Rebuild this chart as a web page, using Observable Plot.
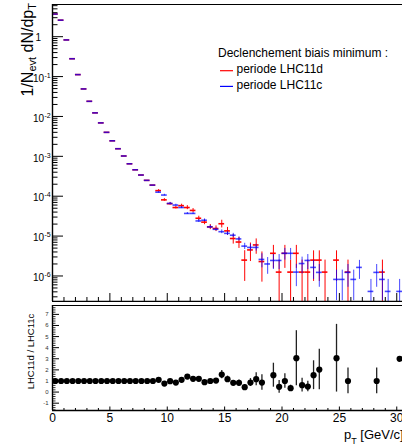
<!DOCTYPE html>
<html><head><meta charset="utf-8">
<script src="https://cdn.jsdelivr.net/npm/d3@7"></script>
<script src="https://cdn.jsdelivr.net/npm/@observablehq/plot@0.6"></script>
<style>
body{margin:0;background:#fff;}
#chart{position:relative;width:402px;height:448px;overflow:hidden;background:#fff;}
#chart svg{position:absolute;left:0;max-width:none;}
</style></head><body><div id="chart"></div><script>
// ---- data ----
const pt = [0.25,0.75,1.25,1.75,2.25,2.75,3.25,3.75,4.25,4.75,5.25,5.75,6.25,6.75,7.25,7.75,8.25,8.75,9.25,9.75,10.25,10.75,11.25,11.75,12.25,12.75,13.25,13.75,14.25,14.75,15.25,15.75,16.25,16.75,17.25,17.75,18.25,18.75,19.25,19.75,20.25,20.75,21.25,21.75,22.25,22.75,23.25,23.75,24.25,24.75,25.25,25.75,26.25,26.75,27.25,27.75,28.25,28.75,29.25,29.75,30.25];
const binHalfWidth = 0.25;
const lhc11c = [3.7,2.6,0.83,0.28,0.112,0.049,0.024,0.0123,0.0069,0.0040,0.00245,0.00155,0.00102,6.5e-4,4.6e-4,3.4e-4,2.5e-4,1.9e-4,
 1.26e-4,1.07e-4,6.6e-5,6.0e-5,5.2e-5,3.7e-5,3.7e-5,2.4e-5,2.5e-5,1.7e-5,1.48e-5,
 1.29e-5,1.17e-5,1.05e-5,8.5e-6,5.6e-6,5.2e-6,5.2e-6,2.6e-6,2.0e-6,
 2.45e-6,2.45e-6,3.7e-6,3.7e-6,1.25e-6,2.05e-6,2.45e-6,1.64e-6,1.23e-6,
 null,null,8.2e-7,8.2e-7,1.23e-6,8.2e-7,1.64e-6,null,4.1e-7,1.23e-6,8.2e-7,4.1e-7,null,4.1e-7];
const lhc11cLo = [null,null,null,null,null,null,null,null,null,null,null,null,null,null,null,null,null,null,
 1.20e-4,1.02e-4,6.3e-5,5.7e-5,4.9e-5,3.5e-5,3.5e-5,2.2e-5,2.3e-5,1.56e-5,1.36e-5,
 1.15e-5,1.04e-5,9.3e-6,7.5e-6,4.6e-6,4.2e-6,4.2e-6,1.6e-6,1.1e-6,
 1.45e-6,1.45e-6,2.5e-6,2.5e-6,5.4e-7,1.13e-6,1.45e-6,8.2e-7,5.2e-7,
 null,null,2.4e-7,2.4e-7,5.2e-7,2.4e-7,8.2e-7,null,0,5.2e-7,2.4e-7,0,null,0];
const lhc11cHi = [null,null,null,null,null,null,null,null,null,null,null,null,null,null,null,null,null,null,
 1.32e-4,1.12e-4,6.9e-5,6.3e-5,5.5e-5,3.9e-5,3.9e-5,2.6e-5,2.7e-5,1.84e-5,1.6e-5,
 1.43e-5,1.3e-5,1.17e-5,9.5e-6,6.6e-6,6.2e-6,6.2e-6,3.6e-6,2.9e-6,
 3.45e-6,3.45e-6,4.9e-6,4.9e-6,1.96e-6,2.97e-6,3.45e-6,2.46e-6,1.94e-6,
 null,null,1.4e-6,1.4e-6,1.94e-6,1.4e-6,2.46e-6,null,8.2e-7,1.94e-6,1.4e-6,8.2e-7,null,8.2e-7];
const lhc11d = [3.7,2.6,0.83,0.28,0.112,0.049,0.024,0.0123,0.0069,0.0040,0.00245,0.00155,0.00102,6.5e-4,4.6e-4,3.4e-4,2.5e-4,1.9e-4,
 1.38e-4,8.1e-5,6.5e-5,5.2e-5,5.8e-5,5.2e-5,4.4e-5,2.8e-5,2.24e-5,1.7e-5,1.55e-5,
 2.04e-5,1.35e-5,8.7e-6,7.1e-6,2.5e-6,4.5e-6,6.0e-6,2.3e-6,null,
 3.7e-6,1.25e-6,3.7e-6,1.25e-6,3.7e-6,1.25e-6,1.25e-6,2.5e-6,2.5e-6,
 1.25e-6,null,2.5e-6,null,1.25e-6,null,null,null,null,null,1.25e-6,null,null,null,1.25e-6];
const lhc11dLo = [null,null,null,null,null,null,null,null,null,null,null,null,null,null,null,null,null,null,
 1.29e-4,7.5e-5,6.0e-5,4.8e-5,5.3e-5,4.6e-5,3.9e-5,2.45e-5,1.93e-5,1.45e-5,1.3e-5,
 1.6e-5,1.05e-5,6.3e-6,4.9e-6,7.3e-7,2.3e-6,3.5e-6,7e-7,null,
 1.55e-6,0,1.55e-6,0,1.55e-6,0,0,7.3e-7,7.3e-7,
 0,null,7.3e-7,null,0,null,null,null,null,null,0,null,null,null,0];
const lhc11dHi = [null,null,null,null,null,null,null,null,null,null,null,null,null,null,null,null,null,null,
 1.47e-4,8.7e-5,7.0e-5,5.6e-5,6.3e-5,5.8e-5,4.9e-5,3.15e-5,2.55e-5,1.95e-5,1.8e-5,
 2.5e-5,1.65e-5,1.1e-5,9.3e-6,4.3e-6,6.7e-6,8.5e-6,4.0e-6,null,
 5.85e-6,2.5e-6,5.85e-6,2.5e-6,5.85e-6,2.5e-6,2.5e-6,4.27e-6,4.27e-6,
 2.5e-6,null,4.27e-6,null,2.5e-6,null,null,null,null,null,2.5e-6,null,null,null,2.5e-6];

const ratioPt = [0.25,0.75,1.25,1.75,2.25,2.75,3.25,3.75,4.25,4.75,5.25,5.75,6.25,6.75,7.25,7.75,8.25,8.75,9.25,9.75,10.25,10.75,11.25,11.75,12.25,12.75,13.25,13.75,14.25,14.75,15.25,15.75,16.25,16.75,17.25,17.75,18.25,
 19.25,19.75,20.25,20.75,21.25,21.75,22.25,22.75,23.25,24.75,25.75,28.25,30.25];
const ratioVal = [1,1,1,1,1,1,1,1,1,1,1,1,1,1,1,1,1,1,
 1.1,0.77,0.98,0.86,1.1,1.4,1.19,1.19,0.89,1.0,1.04,
 1.58,1.16,0.83,0.83,0.44,0.86,1.16,0.86,
 1.52,0.47,1.0,0.35,3.05,0.62,0.5,1.52,2.03,3.05,1.0,1.0,3.0];
const ratioErr = [0.02,0.02,0.02,0.02,0.02,0.02,0.02,0.02,0.02,0.02,0.02,0.02,0.02,0.02,0.02,0.02,0.02,0.02,
 0.06,0.06,0.07,0.07,0.08,0.12,0.11,0.13,0.11,0.13,0.14,
 0.37,0.28,0.22,0.25,0.24,0.36,0.58,0.7,
 1.08,0.57,0.65,0.27,2.48,0.62,0.47,1.3,1.83,3.05,1.16,1.16,0];

const xMajorTicks = [0,5,10,15,20,25,30];
const xTickLabels = ["0","5","10","15","20","25","30"];
const yDecadeTicks = [1e-1,1e-2,1e-3,1e-4,1e-5,1e-6];
const yDecadeExps = ["-1","-2","-3","-4","-5","-6"];
const ratioTicks = [-1,0,1,2,3,4,5,6,7];
const legendTitle = "Declenchement biais minimum :";
const seriesNames = ["periode LHC11d","periode LHC11c"];
const seriesColors = ["#ff0000","#0000ff"];

// ---- helpers ----
const FONT = "'Liberation Sans', Arial, Helvetica, sans-serif";
const rows = (v, lo, hi) => pt.map((p,i)=>({pt:p, v:v[i], lo:lo[i], hi:hi[i]})).filter(d=>d.v!=null);
const redRows = rows(lhc11d, lhc11dLo, lhc11dHi);
const blueRows = rows(lhc11c, lhc11cLo, lhc11cHi);
const ratioRows = ratioPt.map((p,i)=>({pt:p, v:ratioVal[i], e:ratioErr[i]}));

const W = 402, ML = 52, XMAX = 30.5;
const TOP_H = 302, TOP_MT = 4, TOP_MB = 1;
const yDom = [2.29e-7, 6.42];
const FW = W - ML, FH_T = TOP_H - TOP_MT - TOP_MB;
const xMinor = d3.range(1,31).filter(v=>v%5!==0);
const yMinor = [];
for (let e=-7; e<=0; e++) for (let k=2;k<=9;k++){const v=k*Math.pow(10,e); if(v>yDom[0]&&v<yDom[1]) yMinor.push(v);}

const errMarks = (data, color, op) => [
  Plot.ruleX(data.filter(d=>d.lo!=null), {x:"pt", y1:d=>Math.max(d.lo,1e-10), y2:"hi", stroke:color, strokeWidth:1, strokeOpacity:op, clip:true}),
  Plot.ruleY(data, {y:"v", x1:d=>d.pt-binHalfWidth, x2:d=>d.pt+binHalfWidth, stroke:color, strokeWidth:1.6, strokeOpacity:op, clip:true})
];

const topPlot = Plot.plot({
  width: W, height: TOP_H, marginTop: TOP_MT, marginBottom: TOP_MB, marginLeft: ML, marginRight: 0,
  style: {fontFamily: FONT, background: "transparent"},
  x: {domain: [0, XMAX], axis: null},
  y: {type: "log", domain: yDom, axis: null},
  marks: [
    ...errMarks(redRows, seriesColors[0], 1),
    ...errMarks(blueRows, seriesColors[1], 0.72),
    Plot.ruleY(yMinor, {y:d=>d, insetRight: FW-5.5, stroke:"#000"}),
    Plot.ruleY([1, ...yDecadeTicks], {y:d=>d, insetRight: FW-11, stroke:"#000"}),
    Plot.ruleX(xMinor, {x:d=>d, insetTop: FH_T-4, stroke:"#000"}),
    Plot.ruleX(xMajorTicks, {x:d=>d, insetTop: FH_T-8, stroke:"#000"}),
    Plot.ruleX([0], {stroke:"#000", strokeWidth:1.4}),
    Plot.ruleY([yDom[0]], {stroke:"#000", strokeWidth:1.6}),
    Plot.ruleY([yDom[1]], {stroke:"#000", strokeWidth:1.2}),
    Plot.text([1], {y:d=>d, frameAnchor:"left", text:d=>"1", dx:-11.5, dy:0.8, textAnchor:"end", fontSize:10, fill:"#000"}),
    Plot.text(yDecadeTicks, {y:d=>d, frameAnchor:"left", text:d=>"10", dx:-8.5, dy:2, textAnchor:"end", fontSize:10, fill:"#000"}),
    Plot.text(yDecadeTicks, {y:d=>d, frameAnchor:"left", text:(d,i)=>yDecadeExps[i], dx:-8, dy:-1, textAnchor:"start", fontSize:7, fill:"#000"})
  ]
});

const BOT_H = 146, BOT_MT = 3, BOT_MB = 38;
const FH_B = BOT_H - BOT_MT - BOT_MB;
const rDom = [-1.66, 7.8];
const rMinor = d3.range(-16, 78, 2).map(v=>v/10).filter(v=>Math.abs(v-Math.round(v))>1e-9);

const botPlot = Plot.plot({
  width: W, height: BOT_H, marginTop: BOT_MT, marginBottom: BOT_MB, marginLeft: ML, marginRight: 0,
  style: {fontFamily: FONT, background: "transparent"},
  x: {domain: [0, XMAX], axis: null},
  y: {domain: rDom, axis: null},
  marks: [
    Plot.ruleY(rMinor, {y:d=>d, insetRight: FW-3.5, stroke:"#000", strokeWidth:0.8}),
    Plot.ruleY(ratioTicks, {y:d=>d, insetRight: FW-7, stroke:"#000"}),
    Plot.ruleX(xMinor, {x:d=>d, insetTop: FH_B-2, stroke:"#000"}),
    Plot.ruleX(xMajorTicks, {x:d=>d, insetTop: FH_B-3.5, stroke:"#000"}),
    Plot.ruleX(ratioRows.filter(d=>d.e>0.05), {x:"pt", y1:d=>d.v-d.e, y2:d=>d.v+d.e, stroke:"#222", strokeWidth:1.3, clip:true}),
    Plot.dot(ratioRows, {x:"pt", y:"v", r:3.1, fill:"#000", stroke:"none"}),
    Plot.ruleX([0], {stroke:"#000", strokeWidth:1.4}),
    Plot.ruleY([rDom[0]], {stroke:"#000", strokeWidth:1.4}),
    Plot.ruleY([rDom[1]], {stroke:"#000", strokeWidth:1.2}),
    Plot.text(ratioTicks, {y:d=>d, frameAnchor:"left", text:d=>String(d), dx:-4, textAnchor:"end", fontSize:6, fill:"#333"}),
    Plot.text(xMajorTicks, {x:d=>d, frameAnchor:"bottom", text:(d,i)=>xTickLabels[i], dy:2.5, lineAnchor:"top", fontSize:12, fill:"#000"})
  ]
});

const chart = document.getElementById("chart");
topPlot.style.top = "0px";
botPlot.style.top = TOP_H + "px";
chart.appendChild(botPlot);
chart.appendChild(topPlot);

// ---- titles & legend ----
const ts = d3.select(topPlot);
const yt = ts.append("text").attr("transform","translate(33,3) rotate(-90)")
  .attr("text-anchor","end").attr("font-family",FONT).attr("font-size",16).attr("fill","#000");
yt.append("tspan").text("1/N");
yt.append("tspan").attr("dy",3).attr("font-size",11).text("evt");
yt.append("tspan").attr("dy",-3).text(" dN/dp");
yt.append("tspan").attr("dy",3).attr("font-size",11).text("T");

const lg = ts.append("g").attr("font-family",FONT).attr("font-size",12).attr("fill","#000").attr("text-anchor","start");
lg.append("text").attr("x",218).attr("y",57).attr("text-anchor","start").text(legendTitle);
[0,1].forEach(i=>{
  const y = 73 + i*15.7;
  lg.append("line").attr("x1",220).attr("x2",233).attr("y1",y-2.3).attr("y2",y-2.3)
    .attr("stroke",seriesColors[i]).attr("stroke-width",1.2);
  lg.append("text").attr("x",236.5).attr("y",y).attr("text-anchor","start").text(seriesNames[i]);
});

const bs = d3.select(botPlot);
bs.append("text").attr("transform",`translate(34,${351.5-TOP_H}) rotate(-90)`)
  .attr("text-anchor","middle").attr("font-family",FONT).attr("font-size",9.5).attr("fill","#000")
  .text("LHC11d / LHC11c");
const xt = bs.append("text").attr("x",344).attr("y",439-TOP_H).attr("text-anchor","start")
  .attr("font-family",FONT).attr("font-size",13).attr("fill","#000");
xt.append("tspan").text("p");
xt.append("tspan").attr("dy",4.5).attr("font-size",9).text("T");
xt.append("tspan").attr("dy",-4.5).text(" [GeV/c]");
</script></body></html>
